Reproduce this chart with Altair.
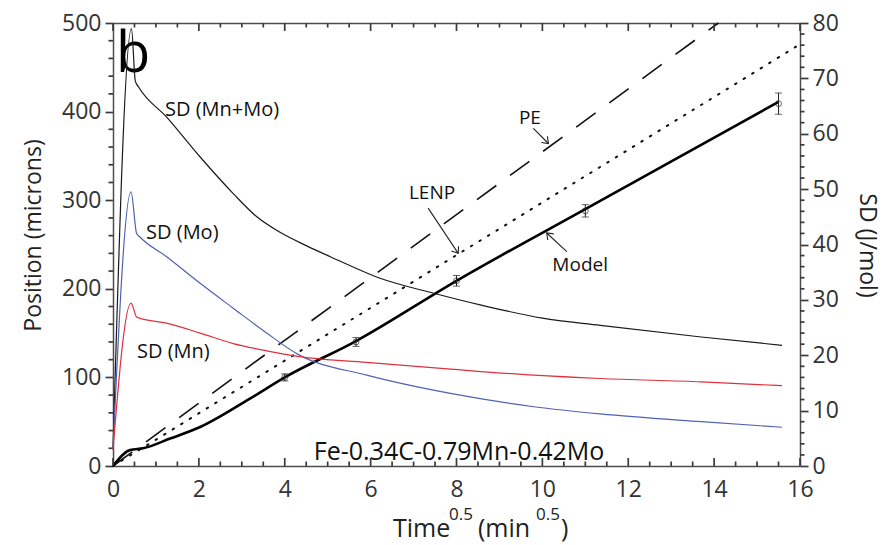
import altair as alt
import pandas as pd

FONT = "Open Sans"

# ---------------- data ----------------
# Position (microns) vs Time^0.5 (min^0.5)
model_t = [0, 0.4, 0.7, 1.33, 2.03, 3.19, 4.0, 5.66, 8.0, 11.0, 15.5]
model_v = [0, 18, 20, 31, 44, 76, 100, 141, 209, 290, 411]
lenp_t = [0, 16]
lenp_v = [0, 476]
pe_t = [0, 14.1]
pe_v = [0, 500]

exp_t = [4.0, 5.66, 8.0, 11.0, 15.5]
exp_v = [100, 140, 209, 288, 409]
exp_err = [4, 5, 6, 7, 12]

# SD (J/mol) curves
mnmo_t = [0, 0.43, 0.52, 0.6, 1.25, 2.03, 2.8, 3.35, 3.89, 4.5, 5.06, 6.22, 7.47, 8.55, 10.0, 11.35, 13.7, 15.58]
mnmo_v = [3, 79, 69.5, 68.4, 63.0, 55.8, 49.2, 45.0, 42.2, 39.8, 37.8, 33.9, 31.2, 29.1, 26.7, 25.4, 23.3, 21.8]
mo_t = [0, 0.42, 0.55, 0.62, 1.25, 2.03, 2.8, 3.58, 4.3, 5.91, 7.86, 9.8, 11.35, 13.7, 15.58]
mo_v = [3, 49.5, 42.0, 41.4, 37.8, 33.0, 28.5, 24.0, 20.2, 16.4, 13.1, 10.7, 9.4, 8.0, 7.0]
mn_t = [0, 0.42, 0.55, 0.62, 1.25, 2.03, 2.8, 3.58, 4.3, 5.91, 7.86, 9.8, 11.35, 13.7, 15.58]
mn_v = [3, 29.4, 26.9, 26.7, 25.8, 24.0, 22.1, 20.8, 19.8, 18.7, 17.5, 16.4, 15.8, 15.2, 14.5]

# axis tick values
x_major = [0, 2, 4, 6, 8, 10, 12, 14, 16]
x_minor = [i * 0.5 for i in range(33) if i % 4 != 0]
yl_major = [0, 100, 200, 300, 400, 500]
yl_minor = [v for v in range(0, 501, 20) if v % 100 != 0]
yr_major = [0, 10, 20, 30, 40, 50, 60, 70, 80]
yr_minor = [v for v in range(0, 81, 2) if v % 10 != 0]

# text labels (data coordinates of the left axis)
lab_text = ["SD (Mn+Mo)", "SD (Mo)", "SD (Mn)", "LENP", "PE", "Model"]
lab_t = [1.21, 0.77, 0.56, 7.43, 9.71, 10.88]
lab_v = [402, 263, 129, 308, 393, 227]

# annotation arrows: start -> end (data coordinates), arrow head angle
arr_t = [7.34, 9.79, 10.57]
arr_v = [291, 381, 242]
arr_t2 = [8.04, 10.14, 10.10]
arr_v2 = [240, 364, 263]
arr_ang = [56, 45, 224]

alloy = "Fe-0.34C-0.79Mn-0.42Mo"

# ---------------- scales & axes ----------------
W, H = 687, 443
X_MIN, X_MAX = 0, 16
YL_MIN, YL_MAX = 0, 500
YR_MIN, YR_MAX = 0, 80
XS = alt.Scale(domain=[X_MIN, X_MAX], nice=False, zero=False)
YLS = alt.Scale(domain=[YL_MIN, YL_MAX], nice=False)
YRS = alt.Scale(domain=[YR_MIN, YR_MAX], nice=False)
AX_COL = "#3a3a3a"

# tick lengths in pixels, converted to each scale's units
MAJ, MIN = 8, 4.5
px_x = (X_MAX - X_MIN) / W
px_yl = (YL_MAX - YL_MIN) / H
px_yr = (YR_MAX - YR_MIN) / H

common = dict(grid=False, domainColor="#4d4d4d", domainWidth=1.5,
              labelFont=FONT, labelFontSize=23, labelColor="#333",
              labelOverlap=False, labelFlush=False, titleFont=FONT, titleFontSize=23,
              titleFontWeight="normal", titleColor="#222", format="d")

AX_BOTTOM = alt.Axis(orient="bottom", values=x_major, ticks=False, labelPadding=12, title=None, **common)
AX_TOP = alt.Axis(orient="top", values=x_major, ticks=False, labels=False, title=None, **common)
AX_LEFT = alt.Axis(orient="left", values=yl_major, ticks=True, tickSize=8, tickColor=AX_COL,
                   tickWidth=1.7, labelPadding=4,
                   title="Position (microns)", titleX=-80, titleY=212,
                   titleBaseline="middle", **common)
AX_RIGHT = alt.Axis(orient="right", values=yr_major, ticks=True, tickSize=8, tickColor=AX_COL,
                    tickWidth=1.7, labelPadding=4,
                    title="SD (J/mol)", titleX=66, titleY=222, titleAngle=90,
                    titleBaseline="middle", **common)

XB = alt.X("t:Q", scale=XS, axis=AX_BOTTOM)
YL = alt.Y("v:Q", scale=YLS, axis=AX_LEFT)
XT = alt.X("t:Q", scale=XS, axis=AX_TOP)
YR = alt.Y("v:Q", scale=YRS, axis=AX_RIGHT)


def df(t, v, **kw):
    d = {"t": t, "v": v}
    d.update(kw)
    return pd.DataFrame(d)


# ---------------- tick marks drawn as rules between two data points ----------------
def vticks(vals, base, delta):
    d = pd.DataFrame({"t": vals, "v": [base] * len(vals), "v2": [base + delta] * len(vals)})
    return alt.Chart(d).mark_rule(color=AX_COL, strokeWidth=1.7).encode(x=XB, y=YL, y2="v2:Q")


def hticks(vals, base, delta, yenc, xenc):
    d = pd.DataFrame({"v": vals, "t": [base] * len(vals), "t2": [base + delta] * len(vals)})
    return alt.Chart(d).mark_rule(color=AX_COL, strokeWidth=1.7).encode(x=xenc, x2="t2:Q", y=yenc)


tick_layers = [
    vticks(x_major, YL_MIN, MAJ * px_yl), vticks(x_minor, YL_MIN, MIN * px_yl),
    vticks(x_major, YL_MAX, -MAJ * px_yl), vticks(x_minor, YL_MAX, -MIN * px_yl),
    hticks(yl_minor, X_MIN, -MIN * px_x, YL, XB),
]

# ---------------- left group (position) ----------------
model = alt.Chart(df(model_t, model_v)).mark_line(color="#000", strokeWidth=2.6,
                                                  interpolate="monotone").encode(x=XB, y=YL)
lenp = alt.Chart(df(lenp_t, lenp_v)).mark_line(color="#111", strokeWidth=2, strokeDash=[1.5, 8.5],
                                               strokeCap="round").encode(x=XB, y=YL)
pe = alt.Chart(df(pe_t, pe_v)).mark_line(color="#111", strokeWidth=1.6, strokeDash=[24, 17]).encode(x=XB, y=YL)

exp_df = pd.DataFrame({"t": exp_t, "v": exp_v,
                       "lo": [a - b for a, b in zip(exp_v, exp_err)],
                       "hi": [a + b for a, b in zip(exp_v, exp_err)]})
err_bar = alt.Chart(exp_df).mark_rule(color="#222", strokeWidth=1).encode(
    x=XB, y=alt.Y("lo:Q", scale=YLS, axis=AX_LEFT), y2="hi:Q")
cap_lo = alt.Chart(exp_df).mark_tick(color="#222", orient="horizontal", size=7, thickness=1).encode(
    x=XB, y=alt.Y("lo:Q", scale=YLS, axis=AX_LEFT))
cap_hi = alt.Chart(exp_df).mark_tick(color="#222", orient="horizontal", size=7, thickness=1).encode(
    x=XB, y=alt.Y("hi:Q", scale=YLS, axis=AX_LEFT))
pts = alt.Chart(exp_df).mark_point(shape="circle", filled=False, color="#222", size=35,
                                   strokeWidth=1).encode(x=XB, y=YL)

labels_l = alt.Chart(pd.DataFrame({"t": lab_t[:3], "v": lab_v[:3], "txt": lab_text[:3]})).mark_text(
    font=FONT, fontSize=20, color="#111", baseline="middle", align="left").encode(x=XB, y=YL, text="txt:N")
labels_c = alt.Chart(pd.DataFrame({"t": lab_t[3:], "v": lab_v[3:], "txt": lab_text[3:]})).mark_text(
    font=FONT, fontSize=19, color="#111", baseline="middle", align="center").encode(x=XB, y=YL, text="txt:N")

arr_df = pd.DataFrame({"t": arr_t, "v": arr_v, "t2": arr_t2, "v2": arr_v2, "ang": arr_ang})
arrows = alt.Chart(arr_df).mark_rule(color="#222", strokeWidth=1.1).encode(x=XB, y=YL, x2="t2:Q", y2="v2:Q")
heads = alt.Chart(arr_df).mark_point(shape="M -1 -0.75 L 0 0 L -1 0.75", filled=False, color="#222",
                                     size=130, strokeWidth=1.1, opacity=1).encode(
    x=alt.X("t2:Q", scale=XS, axis=AX_BOTTOM), y=alt.Y("v2:Q", scale=YLS, axis=AX_LEFT),
    angle=alt.Angle("ang:Q", scale=None))

b_lab = alt.Chart(pd.DataFrame({"t": [0.07], "v": [445], "txt": ["b"]})).mark_text(
    font=FONT, fontSize=56, color="#000", align="left", baseline="alphabetic").encode(x=XB, y=YL, text="txt:N")
alloy_lab = alt.Chart(pd.DataFrame({"t": [8.06], "v": [16], "txt": [alloy]})).mark_text(
    font=FONT, fontSize=25, color="#111", align="center", baseline="middle").encode(x=XB, y=YL, text="txt:N")

one = pd.DataFrame({"a": [0]})


def piece(txt, px, py, size):
    return alt.Chart(one).mark_text(font=FONT, fontSize=size, color="#222", align="left",
                                    baseline="alphabetic", text=txt).encode(
        x=alt.value(px), y=alt.value(py))


xtitle = [piece("Time", 280, 514, 25), piece("0.5", 336, 497, 17), piece("(min", 365, 514, 25),
          piece("0.5", 423, 497, 17), piece(")", 448, 514, 25)]

left = alt.layer(pe, lenp, model, err_bar, cap_lo, cap_hi, pts, labels_l, labels_c, arrows, heads,
                 b_lab, alloy_lab, *tick_layers, *xtitle)

# ---------------- right group (SD) ----------------
sd_df = pd.concat([
    df(mnmo_t, mnmo_v, s="Mn+Mo"),
    df(mo_t, mo_v, s="Mo"),
    df(mn_t, mn_v, s="Mn"),
])
sd = alt.Chart(sd_df).mark_line(strokeWidth=1.2, interpolate="monotone").encode(
    x=XT, y=YR, detail="s:N",
    color=alt.Color("s:N", scale=alt.Scale(domain=["Mn+Mo", "Mo", "Mn"],
                                           range=["#1a1a1a", "#4f62b3", "#e0303e"]), legend=None))
right = alt.layer(sd, hticks(yr_minor, X_MAX, MIN * px_x, YR, XT))

chart = alt.layer(left, right).resolve_scale(y="independent").resolve_axis(x="independent").properties(
    width=W, height=H, autosize=alt.AutoSizeParams(type="none"),
    padding={"left": 113, "top": 23, "right": 89, "bottom": 79}
).configure_view(stroke=None)

chart.save("out.html", embed_options={"renderer": "svg", "actions": False})
